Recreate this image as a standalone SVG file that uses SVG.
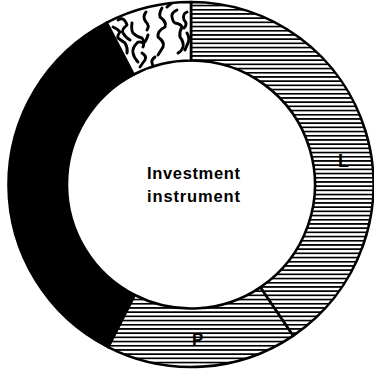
<svg xmlns="http://www.w3.org/2000/svg" width="374" height="369" viewBox="0 0 374 369">
  <style>
    .seg { stroke: #000; stroke-width: 2.6; stroke-linejoin: round; }
    .hatch { fill: url(#hatch); }
    .lbl { font-family: "Liberation Sans", Arial, sans-serif; font-weight: bold; fill: #000; }
    .wave { fill: none; stroke: #000; stroke-width: 2.9; stroke-linecap: round; stroke-linejoin: round; }
  </style>
  <defs>
    <pattern id="hatch" patternUnits="userSpaceOnUse" x="0" y="0.5" width="20" height="4.2">
      <rect x="0" y="0" width="20" height="4.2" fill="#fff"/>
      <rect x="0" y="0" width="20" height="1.7" fill="#000"/>
    </pattern>
    <clipPath id="wclip">
      <path d="M106.74,22.6 A182.5,182.5 0 0 1 191,2 L191,60.5 A124,124 0 0 0 133.75,74.5 Z"/>
    </clipPath>
  </defs>
  <rect width="374" height="369" fill="#fff"/>

  <g id="seg-L">
    <path class="seg hatch" d="M191,2 A182.5,182.5 0 0 1 293.05,335.8 L260.3,287.3 A124,124 0 0 0 191,60.5 Z"/>
    <text class="lbl" x="338" y="167" font-size="18">L</text>
  </g>

  <g id="seg-P">
    <path class="seg hatch" d="M293.05,335.8 A182.5,182.5 0 0 1 108.15,347.1 L134.7,295 A124,124 0 0 0 260.3,287.3 Z"/>
    <text class="lbl" x="192" y="345" font-size="17">P</text>
  </g>

  <g id="seg-black">
    <path class="seg" fill="#000" d="M108.15,347.1 A182.5,182.5 0 0 1 106.74,22.6 L133.75,74.5 A124,124 0 0 0 134.7,295 Z"/>
  </g>

  <g id="seg-wavy">
    <path class="seg" fill="#fff" d="M106.74,22.6 A182.5,182.5 0 0 1 191,2 L191,60.5 A124,124 0 0 0 133.75,74.5 Z"/>
    <g clip-path="url(#wclip)">
      <path class="wave" d="M113,27 Q118,29 120,32 Q117,36 118,38 Q122,41 125,43 Q128,48 127,53"/>
      <path class="wave" d="M118,20 Q124,16 127,25 Q121,30 123,33 Q126,38 130,40"/>
      <path class="wave" d="M132,23 Q131,30 133,33 Q137,37 142,38 Q145,42 143,47"/>
      <path class="wave" d="M148,35 Q146,42 143,43 Q138,41 137,43 Q132,48 133,53 Q134,58 138,62"/>
      <path class="wave" d="M162,8 Q159,13 160,17 Q167,22 165,27 Q157,31 158,37 Q165,42 163,47 Q160,52 158,55"/>
      <path class="wave" d="M177,10 Q171,13 172,17 Q173,22 175,23 Q181,24 182,27 Q179,32 180,37 Q184,42 183,47 Q182,51 178,53"/>
      <path class="wave" d="M172,3 Q169,5 167,7"/>
      <path class="wave" d="M142,53 Q147,56 145,60 Q142,64 140,67"/>
      <path class="wave" d="M155,57 Q151,60 152,63 Q153,67 155,70"/>
      <path class="wave" d="M187,12 Q182,14 184,20 Q188,24 184,28"/>
      <path class="wave" d="M187,33 Q190,38 188,43 Q186,47 185,50"/>
      <path class="wave" d="M146,12 Q142,17 146,22 Q150,26 147,30"/>
    </g>
  </g>

  <g id="center-label">
    <text class="lbl" x="147" y="179" font-size="16.5" textLength="93" lengthAdjust="spacing">Investment</text>
    <text class="lbl" x="147" y="202" font-size="16.5" textLength="93" lengthAdjust="spacing">instrument</text>
  </g>
</svg>
